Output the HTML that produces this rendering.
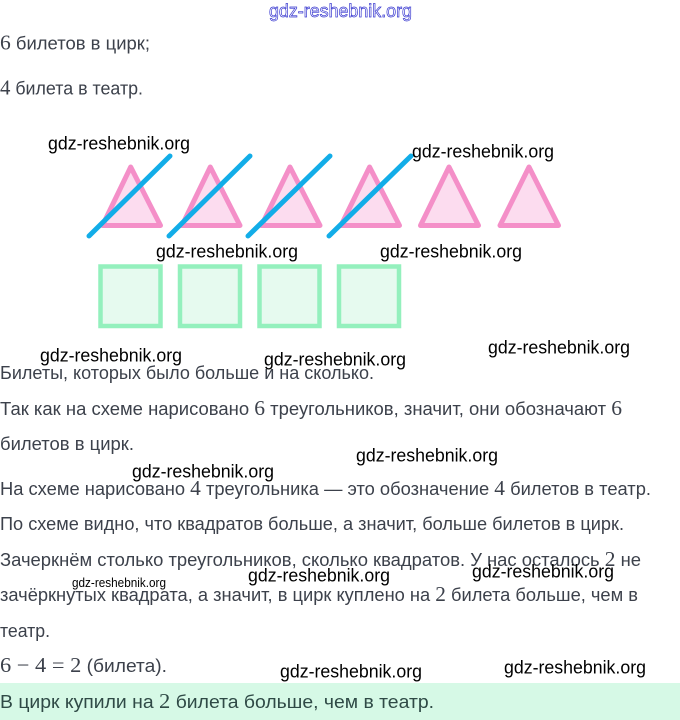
<!DOCTYPE html>
<html lang="ru"><head><meta charset="utf-8"><title>Билеты</title>
<style>
html,body{margin:0;padding:0;background:#fff;width:680px;height:720px;overflow:hidden}
svg{display:block}
.t{font:18px "Liberation Sans",sans-serif;fill:#3c414b}
.m{font:21px "Liberation Serif",serif}
.w{font:18.5px "Liberation Sans",sans-serif;fill:#000}
</style></head><body>
<svg width="680" height="720" viewBox="0 0 680 720" xmlns="http://www.w3.org/2000/svg">
<rect x="0" y="683" width="680" height="37" fill="#d6f9e6"/>

<text x="269" y="17" textLength="143" lengthAdjust="spacingAndGlyphs" style="font:18px 'Liberation Sans',sans-serif" fill="#fff" stroke="#3a3ad0" stroke-width=".7">gdz-reshebnik.org</text>

<text class="t" x="0" y="49.5" textLength="150" lengthAdjust="spacingAndGlyphs"><tspan class="m">6</tspan> билетов в цирк;</text>
<text class="t" x="0" y="94.5" textLength="143" lengthAdjust="spacingAndGlyphs"><tspan class="m">4</tspan> билета в театр.</text>

<g fill="#fcdcef" stroke="#f48fc8" stroke-width="5" stroke-linejoin="round">
<polygon points="130.7,167 102.5,225.5 160.5,225.5"/>
<polygon points="210.3,167 182,225.5 240,225.5"/>
<polygon points="290,167 261.5,225.5 320,225.5"/>
<polygon points="369.6,167 341,225.5 399.5,225.5"/>
<polygon points="449,167 420.5,225.5 478.5,225.5"/>
<polygon points="529,167 500,225.5 558.5,225.5"/>
</g>
<g stroke="#12ade8" stroke-width="5" stroke-linecap="round">
<line x1="89" y1="236" x2="170" y2="156"/>
<line x1="169" y1="236" x2="250" y2="156"/>
<line x1="248" y1="236" x2="330" y2="156"/>
<line x1="329" y1="236" x2="411" y2="156"/>
</g>
<g fill="#e6faef" stroke="#94f0bd" stroke-width="4.5">
<rect x="100.5" y="266.5" width="60" height="59.5"/>
<rect x="180" y="266.5" width="60" height="59.5"/>
<rect x="259.5" y="266.5" width="60" height="59.5"/>
<rect x="339" y="266.5" width="60" height="59.5"/>
</g>

<text class="t" x="0" y="379" textLength="374" lengthAdjust="spacingAndGlyphs">Билеты, которых было больше и на сколько.</text>
<text class="t" x="0" y="415" textLength="622" lengthAdjust="spacingAndGlyphs">Так как на схеме нарисовано <tspan class="m">6</tspan> треугольников, значит, они обозначают <tspan class="m">6</tspan></text>
<text class="t" x="0" y="450" textLength="134" lengthAdjust="spacingAndGlyphs">билетов в цирк.</text>
<text class="t" x="0" y="495" textLength="651" lengthAdjust="spacingAndGlyphs">На схеме нарисовано <tspan class="m">4</tspan> треугольника — это обозначение <tspan class="m">4</tspan> билетов в театр.</text>
<text class="t" x="0" y="530" textLength="624" lengthAdjust="spacingAndGlyphs">По схеме видно, что квадратов больше, а значит, больше билетов в цирк.</text>
<text class="t" x="0" y="566" textLength="641" lengthAdjust="spacingAndGlyphs">Зачеркнём столько треугольников, сколько квадратов. У нас осталось <tspan class="m">2</tspan> не</text>
<text class="t" x="0" y="601" textLength="638" lengthAdjust="spacingAndGlyphs">зачёркнутых квадрата, а значит, в цирк куплено на <tspan class="m">2</tspan> билета больше, чем в</text>
<text class="t" x="0" y="637" textLength="50" lengthAdjust="spacingAndGlyphs">театр.</text>
<text class="t" x="0" y="672" textLength="167" lengthAdjust="spacingAndGlyphs"><tspan class="m">6 − 4 = 2</tspan> (билета).</text>
<text class="t" x="0" y="708" textLength="434" lengthAdjust="spacingAndGlyphs" style="fill:#2f4a46">В цирк купили на <tspan class="m">2</tspan> билета больше, чем в театр.</text>

<g>
<text class="w" x="48" y="149.5" textLength="142" lengthAdjust="spacingAndGlyphs">gdz-reshebnik.org</text>
<text class="w" x="412" y="157.5" textLength="142" lengthAdjust="spacingAndGlyphs">gdz-reshebnik.org</text>
<text class="w" x="156" y="257.5" textLength="142" lengthAdjust="spacingAndGlyphs">gdz-reshebnik.org</text>
<text class="w" x="380" y="257.5" textLength="142" lengthAdjust="spacingAndGlyphs">gdz-reshebnik.org</text>
<text class="w" x="40" y="361.5" textLength="142" lengthAdjust="spacingAndGlyphs">gdz-reshebnik.org</text>
<text class="w" x="264" y="365.5" textLength="142" lengthAdjust="spacingAndGlyphs">gdz-reshebnik.org</text>
<text class="w" x="488" y="353.5" textLength="142" lengthAdjust="spacingAndGlyphs">gdz-reshebnik.org</text>
<text class="w" x="132" y="477.5" textLength="142" lengthAdjust="spacingAndGlyphs">gdz-reshebnik.org</text>
<text class="w" x="356" y="461.5" textLength="142" lengthAdjust="spacingAndGlyphs">gdz-reshebnik.org</text>
<text class="w" x="72" y="587" textLength="94" lengthAdjust="spacingAndGlyphs" style="font-size:12.5px">gdz-reshebnik.org</text>
<text class="w" x="248" y="581.5" textLength="142" lengthAdjust="spacingAndGlyphs">gdz-reshebnik.org</text>
<text class="w" x="472" y="577.5" textLength="142" lengthAdjust="spacingAndGlyphs">gdz-reshebnik.org</text>
<text class="w" x="280" y="677.5" textLength="142" lengthAdjust="spacingAndGlyphs">gdz-reshebnik.org</text>
<text class="w" x="504" y="673.5" textLength="142" lengthAdjust="spacingAndGlyphs">gdz-reshebnik.org</text>
</g>
</svg>
</body></html>
